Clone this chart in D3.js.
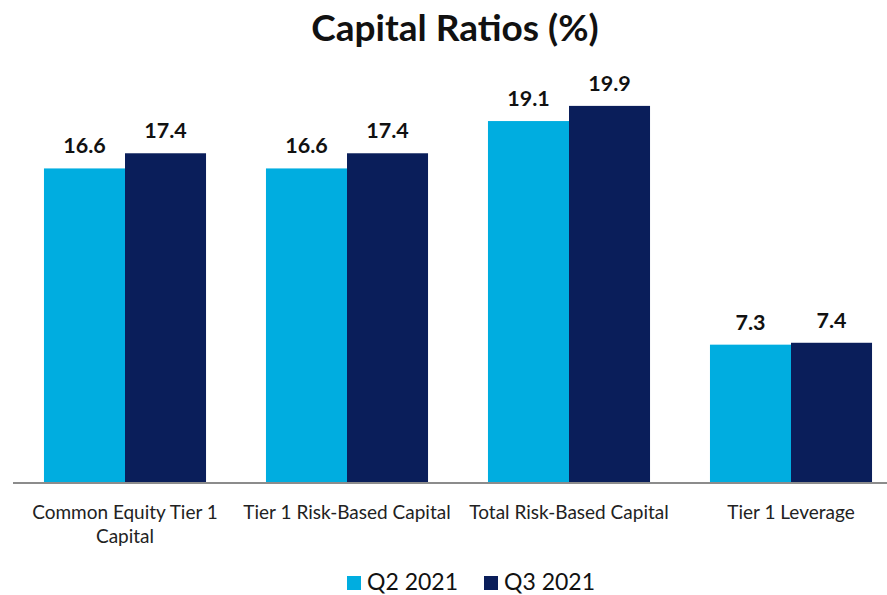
<!DOCTYPE html>
<html>
<head>
<meta charset="utf-8">
<script src="https://cdn.jsdelivr.net/npm/d3@7"></script>
<style>
  body { margin: 0; background: #fff; }
  text { font-family: Lato, "Open Sans", sans-serif; }
</style>
</head>
<body>
<div id="chart"></div>
<script>
const categories = [["Common Equity Tier 1", "Capital"], ["Tier 1 Risk-Based Capital"], ["Total Risk-Based Capital"], ["Tier 1 Leverage"]];
const seriesNames = ["Q2 2021", "Q3 2021"];
const q2 = [16.6, 16.6, 19.1, 7.3];
const q3 = [17.4, 17.4, 19.9, 7.4];
const colors = ["#00ADE0", "#0A1E5A"];

const width = 887, height = 595;
const svg = d3.select("#chart").append("svg")
    .attr("width", width)
    .attr("height", height);

const x0 = d3.scaleBand()
    .domain(d3.range(categories.length))
    .range([14, 902])
    .paddingInner(0.27)
    .paddingOuter(0.135);

const x1 = d3.scaleBand()
    .domain(d3.range(seriesNames.length))
    .range([0, x0.bandwidth()]);

const y = d3.scaleLinear()
    .domain([0, 20])
    .range([483, 104]);

// title
svg.append("text")
    .attr("x", 455)
    .attr("y", 41)
    .attr("text-anchor", "middle")
    .attr("font-size", 37)
    .attr("font-weight", "bold")
    .attr("fill", "#111")
    .text("Capital Ratios (%)");

const series = [q2, q3];
const groups = svg.selectAll("g.grp")
    .data(categories)
    .enter().append("g")
    .attr("class", "grp")
    .attr("transform", (d, i) => `translate(${x0(i)},0)`);

groups.each(function(d, i) {
    const g = d3.select(this);
    series.forEach((s, j) => {
        g.append("rect")
            .attr("x", x1(j))
            .attr("y", y(s[i]))
            .attr("width", x1.bandwidth())
            .attr("height", y(0) - y(s[i]))
            .attr("fill", colors[j]);
        g.append("text")
            .attr("x", x1(j) + x1.bandwidth() / 2)
            .attr("y", y(s[i]) - 15)
            .attr("text-anchor", "middle")
            .attr("font-size", 21.5)
            .attr("font-weight", "bold")
            .attr("fill", "#111")
            .text(s[i].toFixed(1));
    });
});

// x axis
const xAxis = svg.append("g")
    .attr("transform", `translate(0,${y(0)})`)
    .call(d3.axisBottom(x0).tickSize(0).tickFormat(""));
xAxis.select(".domain").attr("stroke", "#8c8c8c").attr("stroke-width", 2)
    .attr("d", "M13,0H887");

groups.append("text")
    .attr("text-anchor", "middle")
    .attr("font-size", 19)
    .attr("fill", "#222")
    .selectAll("tspan")
    .data(d => d)
    .enter().append("tspan")
    .attr("x", x0.bandwidth() / 2)
    .attr("y", (d, k) => 519 + k * 24)
    .text(d => d);

// legend
const legendX = [347, 484];
seriesNames.forEach((name, j) => {
    svg.append("rect")
        .attr("x", legendX[j])
        .attr("y", 576)
        .attr("width", 14)
        .attr("height", 14)
        .attr("fill", colors[j]);
    svg.append("text")
        .attr("x", legendX[j] + 20)
        .attr("y", 590)
        .attr("font-size", 23)
        .attr("fill", "#111")
        .text(name);
});
</script>
</body>
</html>
